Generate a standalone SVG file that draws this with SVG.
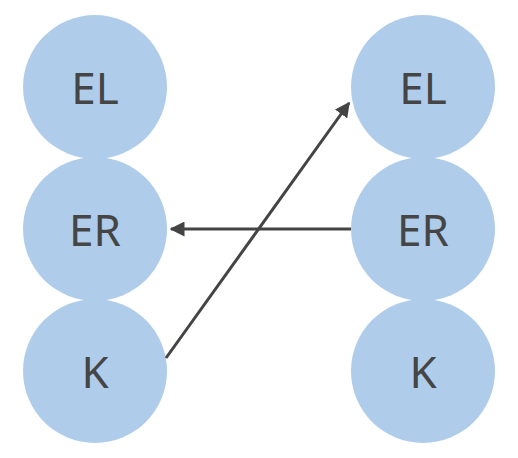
<svg xmlns="http://www.w3.org/2000/svg" width="518" height="458" viewBox="0 0 518 458">
<style>
.n{fill:#afcdea}
.t{font-family:"Noto Sans","Open Sans",sans-serif;font-size:44px;fill:#454545;text-anchor:middle;dominant-baseline:central}
.e{stroke:#444;stroke-width:3;fill:none}
</style>
<defs>
<marker id="a" viewBox="0 0 10 10" refX="9" refY="5" markerWidth="5" markerHeight="5" orient="auto" markerUnits="strokeWidth">
<path d="M0,0L10,5L0,10z" fill="#444"/>
</marker>
</defs>
<g id="L_EL"><circle class="n" cx="95" cy="87" r="72"/><text class="t" x="95" y="87">EL</text></g>
<g id="L_ER"><circle class="n" cx="95" cy="229" r="72"/><text class="t" x="95" y="229">ER</text></g>
<g id="L_K"><circle class="n" cx="95" cy="371" r="72"/><text class="t" x="95" y="371">K</text></g>
<g id="R_EL"><circle class="n" cx="423" cy="87" r="72"/><text class="t" x="423" y="87">EL</text></g>
<g id="R_ER"><circle class="n" cx="423" cy="229" r="72"/><text class="t" x="423" y="229">ER</text></g>
<g id="R_K"><circle class="n" cx="423" cy="371" r="72"/><text class="t" x="423" y="371">K</text></g>
<g id="edges">
<line class="e" x1="351" y1="229" x2="171" y2="229" marker-end="url(#a)"/>
<line class="e" x1="166" y1="358" x2="349" y2="103" marker-end="url(#a)"/>
</g>
</svg>
